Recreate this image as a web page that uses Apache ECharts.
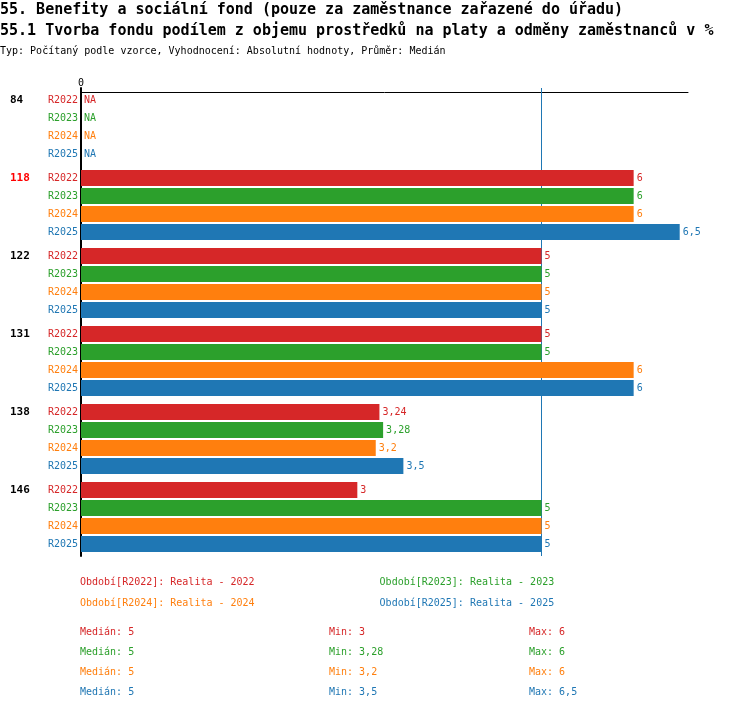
<!DOCTYPE html>
<html lang="cs">
<head>
<meta charset="utf-8">
<script src="https://cdn.jsdelivr.net/npm/echarts@6/dist/echarts.min.js"></script>
<style>
  html, body { margin: 0; padding: 0; background: #fff; }
  #main { width: 750px; height: 710px; }
</style>
</head>
<body>
<div id="main"></div>
<script>
// data
var categories = ['84', '118', '122', '131', '138', '146'];
var highlighted = '118';
var years = ['R2022', 'R2023', 'R2024', 'R2025'];
var r2022 = [null, 6, 5, 5, 3.24, 3];
var r2023 = [null, 6, 5, 5, 3.28, 5];
var r2024 = [null, 6, 5, 6, 3.2, 5];
var r2025 = [null, 6.5, 5, 6, 3.5, 5];
var colors = ['#d62728', '#2ca02c', '#ff7f0e', '#1f77b4'];

var values = [r2022, r2023, r2024, r2025];
var mono = '"DejaVu Sans Mono", monospace';

function fmt(v) { return String(v).replace('.', ','); }
function clean(a) { return a.filter(function (v) { return v != null; }); }
function median(a) {
    var s = clean(a).slice().sort(function (x, y) { return x - y; });
    var m = Math.floor(s.length / 2);
    return s.length % 2 ? s[m] : (s[m - 1] + s[m]) / 2;
}

var allValues = [].concat(r2022, r2023, r2024, r2025);

var series = [];
values.forEach(function (vals, i) {
    // invisible zero bar that carries the period label on the left of the axis
    series.push({
        name: years[i] + '-popisek',
        type: 'bar',
        stack: 's' + i,
        barWidth: 16,
        barGap: '12.5%',
        silent: true,
        itemStyle: { color: 'transparent' },
        data: vals.map(function () { return 0; }),
        label: {
            show: true, position: 'left', distance: 3,
            formatter: years[i], color: colors[i],
            fontSize: 10, fontFamily: mono
        }
    });
    var s = {
        name: years[i],
        type: 'bar',
        stack: 's' + i,
        barWidth: 16,
        barGap: '12.5%',
        itemStyle: { color: colors[i] },
        data: vals.map(function (v) { return v == null ? { value: 0, na: true } : v; }),
        label: {
            show: true, position: 'right', distance: 3,
            color: colors[i], fontSize: 10, fontFamily: mono,
            formatter: function (p) { return p.data && p.data.na ? 'NA' : fmt(p.value); }
        }
    };
    if (i === 3) {
        s.markLine = {
            silent: true, symbol: 'none', z: 1,
            label: { show: false },
            lineStyle: { color: '#1f77b4', width: 1, type: 'solid', opacity: 1 },
            data: [{ xAxis: median(allValues) }]
        };
    }
    series.push(s);
});

function legendItem(i) {
    return { name: years[i], textStyle: { color: colors[i] } };
}
function legendFmt(name) { return 'Období[' + name + ']: Realita - ' + name.slice(1); }

var stats = [];
values.forEach(function (vals, i) {
    var c = clean(vals);
    var y = 632 + 20 * i;
    [['Medián: ' + fmt(median(vals)), 80],
     ['Min: ' + fmt(Math.min.apply(null, c)), 329],
     ['Max: ' + fmt(Math.max.apply(null, c)), 529]].forEach(function (t) {
        stats.push({
            type: 'text', x: t[1], y: y,
            style: { text: t[0], fill: colors[i], font: '10px ' + mono, verticalAlign: 'middle' }
        });
    });
});

var chart = echarts.init(document.getElementById('main'));
chart.setOption({
    animation: false,
    title: [
        { text: '55. Benefity a sociální fond (pouze za zaměstnance zařazené do úřadu)',
          left: 0, top: 3, padding: 0,
          textStyle: { fontSize: 15, fontWeight: 'bold', fontFamily: mono, color: '#000' } },
        { text: '55.1 Tvorba fondu podílem z objemu prostředků na platy a odměny zaměstnanců v %',
          left: 0, top: 24, padding: 0,
          textStyle: { fontSize: 15, fontWeight: 'bold', fontFamily: mono, color: '#000' } },
        { text: 'Typ: Počítaný podle vzorce, Vyhodnocení: Absolutní hodnoty, Průměr: Medián',
          left: 0, top: 46, padding: 0,
          textStyle: { fontSize: 10, fontWeight: 'normal', fontFamily: mono, color: '#000' } }
    ],
    legend: [
        { data: [legendItem(0), legendItem(1)], left: 70, top: 572, itemGap: 120,
          itemWidth: 0, itemHeight: 0, icon: 'rect', selectedMode: false,
          formatter: legendFmt, textStyle: { fontSize: 10, fontFamily: mono } },
        { data: [legendItem(2), legendItem(3)], left: 70, top: 593, itemGap: 120,
          itemWidth: 0, itemHeight: 0, icon: 'rect', selectedMode: false,
          formatter: legendFmt, textStyle: { fontSize: 10, fontFamily: mono } }
    ],
    grid: { left: 81, top: 88, width: 607, height: 468, containLabel: false },
    xAxis: {
        type: 'value', position: 'top', offset: -4,
        min: 0, max: 6.59,
        axisLine: { show: true, lineStyle: { color: '#000', width: 1 } },
        axisTick: { show: false },
        splitLine: { show: false },
        axisLabel: {
            margin: 4, fontSize: 10, fontFamily: mono, color: '#000',
            formatter: function (v) { return v === 0 ? '0' : ''; }
        }
    },
    yAxis: {
        type: 'category', inverse: true, data: categories,
        axisLine: { show: true, lineStyle: { color: '#000', width: 2 } },
        axisTick: { show: false },
        axisLabel: {
            align: 'left', margin: 71, fontSize: 11, fontWeight: 'bold', fontFamily: mono,
            lineHeight: 18,
            // push the group label up to the first bar of its group
            formatter: function (v) { return v + '\n\n\n '; },
            color: function (v) { return v === highlighted ? '#ff0000' : '#000'; }
        }
    },
    graphic: stats,
    series: series
});
</script>
</body>
</html>
